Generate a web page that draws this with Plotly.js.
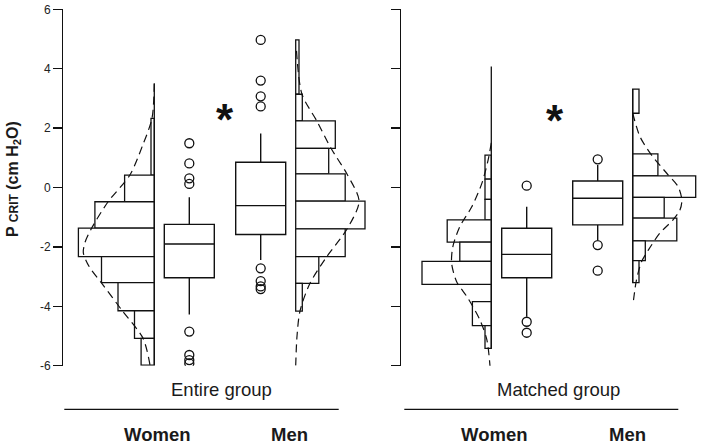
<!DOCTYPE html>
<html>
<head>
<meta charset="utf-8">
<script src="https://cdn.plot.ly/plotly-3.0.1.min.js"></script>
<style>
  html, body { margin: 0; padding: 0; background: #fff; }
  #chart { width: 702px; height: 446px; }
</style>
</head>
<body>
<div id="chart"></div>
<script>
// ---- data ----
const yTickVals = [-6, -4, -2, 0, 2, 4, 6];
const yTickText = ["-6", "-4", "-2", "0", "2", "4", "6"];

// histograms: bin edges (top to bottom) and counts
const entWomenEdges = [2.33, 0.42, -0.48, -1.37, -2.33, -3.20, -4.15, -5.08, -5.98];
const entWomenCounts = [1, 9, 18, 23, 16, 11, 6, 4];
const entMenEdges = [4.97, 3.14, 2.24, 1.32, 0.46, -0.46, -1.39, -2.33, -3.23, -4.16];
const entMenCounts = [1, 2, 12, 10, 15, 21, 15, 7, 2];
const matWomenEdges = [1.09, 0.28, -0.40, -1.09, -1.84, -2.49, -3.26, -3.84, -4.65, -5.42];
const matWomenCounts = [1, 1, 1, 7, 5, 11, 0, 3, 1];
const matMenEdges = [3.31, 2.50, 1.13, 0.39, -0.33, -1.03, -1.80, -2.46, -3.20];
const matMenCounts = [1, 0, 4, 10, 5, 7, 2, 1];

// fitted density curves (y value, height in count units)
const entWomenCurveY = [3.5, 2.33, 1.4, 0.42, -0.48, -1.35, -1.85, -2.2, -2.67, -3.23, -4.12, -5.08, -5.98];
const entWomenCurveD = [0, 0.7, 3.6, 7.4, 14.0, 18.9, 21.0, 21.5, 19.7, 15.9, 9.9, 3.4, 1.3];
const entMenCurveY = [4.6, 3.14, 2.24, 1.32, 0.46, -0.46, -1.39, -2.33, -3.23, -4.16, -5.0, -6.0];
const entMenCurveD = [0.25, 1.9, 6.4, 10.7, 15.5, 19.2, 15.6, 9.4, 4.3, 1.3, 0.4, 0];
const matWomenCurveY = [1.5, 0.93, 0.14, -0.65, -1.32, -1.99, -2.55, -3.17, -3.73, -4.46, -5.13, -6.03];
const matWomenCurveD = [0, 0.5, 1.5, 3.1, 5.0, 6.1, 6.3, 5.5, 3.7, 1.8, 0.7, 0.2];
const matMenCurveY = [2.5, 1.71, 1.09, 0.48, 0.03, -0.42, -0.76, -1.09, -1.54, -2.1, -2.5, -3.11, -3.84];
const matMenCurveD = [0, 1.16, 3.0, 5.4, 7.2, 7.8, 7.5, 6.4, 4.3, 2.5, 1.4, 0.6, 0.1];

// box plots: [lower whisker, q1, median, q3, upper whisker]
const entWomenBox = [-4.28, -3.04, -1.90, -1.24, -0.33];
const entMenBox = [-2.44, -1.58, -0.61, 0.85, 1.82];
const matWomenBox = [-4.35, -3.04, -2.25, -1.37, -0.65];
const matMenBox = [-1.77, -1.26, -0.36, 0.22, 0.76];
const entWomenOut = [1.49, 0.81, 0.31, 0.12, -4.85, -5.64, -5.81, -5.92];
const entMenOut = [4.97, 3.6, 3.07, 2.73, -2.72, -3.15, -3.33, -3.42];
const matWomenOut = [0.06, -4.52, -4.89];
const matMenOut = [0.95, -1.94, -2.80];

const groupNames = ["Entire group", "Matched group"];
const sexNames = ["Women", "Men"];

// ---- layout constants (x axis runs 0..702) ----
const ink = "#111";
const font = "Liberation Sans, Arial, Helvetica, sans-serif";
const entUnit = 3.3, matUnit = 6.3;   // bar length per count
const boxW = 50;

function hist(edges, counts, base, unit, dir, ya) {
  const y = [], w = [], x = [];
  for (let i = 0; i < counts.length; i++) {
    y.push((edges[i] + edges[i + 1]) / 2);
    w.push(edges[i] - edges[i + 1]);
    x.push(dir * counts[i] * unit);
  }
  return { type: "bar", orientation: "h", y: y, x: x, base: base, width: w, yaxis: ya,
    marker: { color: "white", line: { color: ink, width: 1.3 } }, hoverinfo: "skip" };
}

function curve(ys, ds, base, unit, dir, ya) {
  return { type: "scatter", mode: "lines", y: ys, x: ds.map(d => base + dir * d * unit), yaxis: ya,
    line: { color: ink, width: 1.2, dash: "8px,5px", shape: "spline", smoothing: 0.8 }, hoverinfo: "skip" };
}

function baseline(x, top, bottom, ya) {
  return { type: "scatter", mode: "lines", x: [x, x], y: [top, bottom], yaxis: ya,
    line: { color: ink, width: 1.3 }, hoverinfo: "skip" };
}

function box(stats, x, ya) {
  return { type: "box", x: [x], lowerfence: [stats[0]], q1: [stats[1]], median: [stats[2]],
    q3: [stats[3]], upperfence: [stats[4]], width: boxW, whiskerwidth: 0, boxpoints: false,
    fillcolor: "white", line: { color: ink, width: 1.4 }, yaxis: ya, hoverinfo: "skip" };
}

function outliers(vals, x, ya) {
  return { type: "scatter", mode: "markers", x: vals.map(() => x), y: vals, yaxis: ya,
    marker: { symbol: "circle-open", size: 9, color: ink, line: { width: 1.3, color: ink } }, hoverinfo: "skip" };
}

const traces = [
  // entire group
  baseline(154.3, 3.5, -5.98, "y"),
  hist(entWomenEdges, entWomenCounts, 154.3, entUnit, -1, "y"),
  hist(entMenEdges, entMenCounts, 295.7, entUnit, 1, "y"),
  box(entWomenBox, 189.3, "y"),
  box(entMenBox, 260.7, "y"),
  outliers(entWomenOut, 189.3, "y"),
  outliers(entMenOut, 260.7, "y"),
  curve(entWomenCurveY, entWomenCurveD, 154.3, entUnit, -1, "y"),
  curve(entMenCurveY, entMenCurveD, 295.7, entUnit, 1, "y"),
  // matched group
  baseline(491.3, 4.07, -5.42, "y2"),
  baseline(632.7, 3.31, -3.20, "y2"),
  hist(matWomenEdges, matWomenCounts, 491.3, matUnit, -1, "y2"),
  hist(matMenEdges, matMenCounts, 632.7, matUnit, 1, "y2"),
  box(matWomenBox, 526.7, "y2"),
  box(matMenBox, 597.7, "y2"),
  outliers(matWomenOut, 526.7, "y2"),
  outliers(matMenOut, 597.7, "y2"),
  curve(matWomenCurveY, matWomenCurveD, 491.3, matUnit, -1, "y2"),
  curve(matMenCurveY, matMenCurveD, 632.7, matUnit, 1, "y2")
];

const H = 446;
const yDomain = [1 - 365.7 / H, 1 - 9.3 / H];
const yAxisBase = {
  range: [-6, 6], domain: yDomain, tickvals: yTickVals, ticktext: yTickText,
  ticks: "outside", ticklen: 9, tickwidth: 1.3, tickcolor: ink,
  showline: true, linecolor: ink, linewidth: 1.3, showgrid: false, zeroline: false,
  anchor: "free", fixedrange: true
};

const py = p => 1 - p / H;
const label = (text, x, y, size, bold) => ({
  text: text, x: x, y: py(y), xref: "x", yref: "paper", showarrow: false,
  xanchor: "center", yanchor: "middle",
  font: { family: font, size: size, color: "#1a1a1a", weight: bold ? "bold" : "normal" }
});
const star = (x, y, ya) => ({
  text: "*", x: x, y: y, xref: "x", yref: ya, showarrow: false, xanchor: "center", yanchor: "middle",
  yshift: -6, font: { family: font, size: 44, color: ink, weight: "bold" }
});

const layout = {
  width: 702, height: 446,
  margin: { l: 0, r: 0, t: 0, b: 0 },
  paper_bgcolor: "white", plot_bgcolor: "white",
  showlegend: false, barmode: "overlay", boxmode: "overlay",
  font: { family: font, color: "#222" },
  xaxis: { range: [0, 702], domain: [0, 1], visible: false, fixedrange: true },
  yaxis: Object.assign({}, yAxisBase, { position: 62 / 702, tickfont: { family: font, size: 12, color: "#222" } }),
  yaxis2: Object.assign({}, yAxisBase, { position: 400 / 702, overlaying: "y", showticklabels: false }),
  shapes: [
    { type: "line", xref: "x", yref: "paper", x0: 64.3, x1: 338.7, y0: py(409.3), y1: py(409.3), line: { color: ink, width: 1.3 } },
    { type: "line", xref: "x", yref: "paper", x0: 404.3, x1: 678.3, y0: py(409.3), y1: py(409.3), line: { color: ink, width: 1.3 } }
  ],
  annotations: [
    label(groupNames[0], 221, 389, 18.5, false),
    label(groupNames[1], 558.7, 389, 18.5, false),
    label(sexNames[0], 157, 434, 18.5, true),
    label(sexNames[1], 289.5, 434, 18.5, true),
    label(sexNames[0], 494, 434, 18.5, true),
    label(sexNames[1], 627, 434, 18.5, true),
    star(225, 2.5, "y"),
    star(555, 2.47, "y2"),
    {
      text: "P <span style='font-size:12px'>CRIT</span> (cm H<sub>2</sub>O)",
      xref: "paper", yref: "paper", x: 14 / 702, y: py(179), textangle: -90,
      showarrow: false, xanchor: "center", yanchor: "middle",
      font: { family: font, size: 16, color: "#1a1a1a", weight: "bold" }
    }
  ]
};

Plotly.newPlot("chart", traces, layout, { displayModeBar: false, staticPlot: true });
</script>
</body>
</html>
